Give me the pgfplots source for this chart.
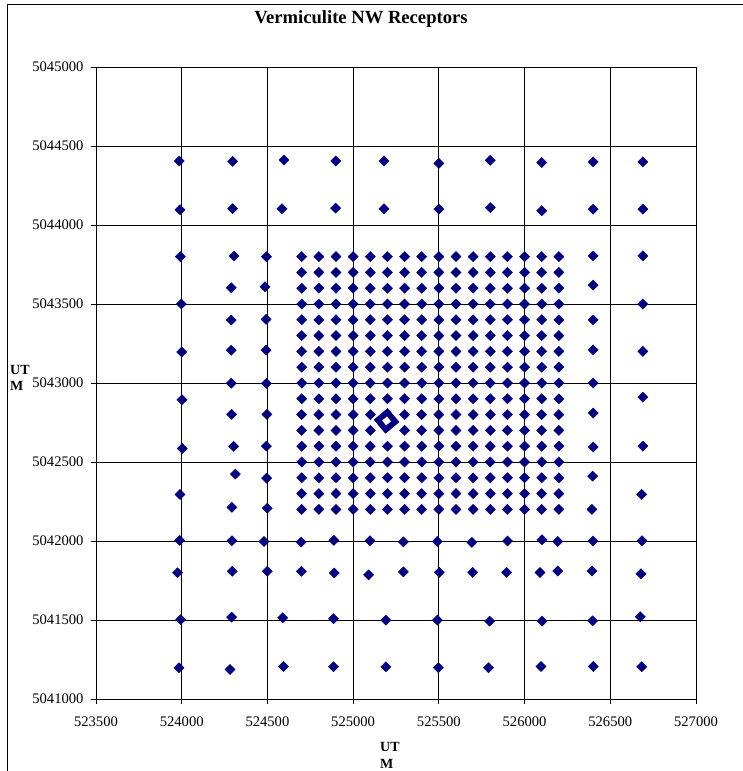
\documentclass[border=0pt]{standalone}
\usepackage{fontspec}
\setmainfont{Liberation Serif}
\usepackage{pgfplots}
\usepackage{pgfplotstable}
\pgfplotsset{compat=1.18}
\definecolor{navy}{HTML}{000080}

% receptors outside the dense 100 m block
\pgfplotstableread[row sep=\\]{
x y \\
523985 5044405 \\ 523990 5044097 \\ 523992 5043800 \\ 523998 5043500 \\
524000 5043196 \\ 524002 5042894 \\ 524003 5042586 \\ 523990 5042295 \\
523988 5042004 \\ 523976 5041799 \\ 523994 5041502 \\ 523984 5041198 \\
524297 5044403 \\ 524297 5044103 \\ 524305 5043803 \\ 524289 5043603 \\
524289 5043398 \\ 524289 5043208 \\ 524289 5042999 \\ 524291 5042801 \\
524303 5042599 \\ 524313 5042424 \\ 524293 5042213 \\ 524293 5042002 \\
524295 5041808 \\ 524291 5041518 \\ 524282 5041187 \\
524495 5043799 \\ 524486 5043609 \\ 524492 5043403 \\ 524492 5043208 \\
524494 5042997 \\ 524497 5042801 \\ 524494 5042601 \\ 524495 5042398 \\
524499 5042208 \\ 524480 5041997 \\ 524499 5041808 \\
524597 5044411 \\ 524585 5044103 \\ 524589 5041514 \\ 524594 5041206 \\
524898 5044405 \\ 524898 5044107 \\ 524886 5041508 \\ 524886 5041204 \\
525180 5044405 \\ 525180 5044103 \\ 525191 5041499 \\ 525191 5041204 \\
525500 5044390 \\ 525500 5044100 \\ 525491 5041499 \\ 525497 5041198 \\
525800 5044410 \\ 525800 5044110 \\ 525796 5041493 \\ 525790 5041198 \\
526100 5044395 \\ 526100 5044090 \\ 526102 5041493 \\ 526096 5041206 \\
524696 5041993 \\ 524698 5041808 \\ 524888 5042004 \\ 524890 5041797 \\
525098 5042002 \\ 525090 5041786 \\ 525293 5041995 \\ 525293 5041805 \\
525491 5041997 \\ 525503 5041801 \\ 525693 5041991 \\ 525697 5041801 \\
525901 5042000 \\ 525895 5041801 \\ 526102 5042008 \\ 526090 5041801 \\
526193 5041997 \\ 526193 5041810 \\
526400 5044400 \\ 526400 5044100 \\ 526400 5043804 \\ 526400 5043620 \\
526400 5043399 \\ 526400 5043209 \\ 526400 5043000 \\ 526400 5042810 \\
526400 5042595 \\ 526397 5042411 \\ 526393 5042200 \\ 526399 5042000 \\
526393 5041810 \\ 526397 5041495 \\ 526401 5041206 \\
526690 5044400 \\ 526690 5044100 \\ 526690 5043805 \\ 526690 5043500 \\
526690 5043200 \\ 526690 5042910 \\ 526690 5042600 \\ 526683 5042295 \\
526685 5042002 \\ 526679 5041793 \\ 526675 5041521 \\ 526683 5041204 \\
}\outerpts

% dense 100 m block
\pgfplotstableread[row sep=\\]{
x y \\
524700 5043800 \\ 524800 5043800 \\ 524900 5043800 \\ 525000 5043800 \\ 525100 5043800 \\ 525200 5043800 \\ 525300 5043800 \\ 525400 5043800 \\ 525500 5043800 \\ 525600 5043800 \\ 525700 5043800 \\ 525800 5043800 \\ 525900 5043800 \\ 526000 5043800 \\ 526100 5043800 \\ 526200 5043800 \\
524700 5043700 \\ 524800 5043700 \\ 524900 5043700 \\ 525000 5043700 \\ 525100 5043700 \\ 525200 5043700 \\ 525300 5043700 \\ 525400 5043700 \\ 525500 5043700 \\ 525600 5043700 \\ 525700 5043700 \\ 525800 5043700 \\ 525900 5043700 \\ 526000 5043700 \\ 526100 5043700 \\ 526200 5043700 \\
524700 5043600 \\ 524800 5043600 \\ 524900 5043600 \\ 525000 5043600 \\ 525100 5043600 \\ 525200 5043600 \\ 525300 5043600 \\ 525400 5043600 \\ 525500 5043600 \\ 525600 5043600 \\ 525700 5043600 \\ 525800 5043600 \\ 525900 5043600 \\ 526000 5043600 \\ 526100 5043600 \\ 526200 5043600 \\
524700 5043500 \\ 524800 5043500 \\ 524900 5043500 \\ 525000 5043500 \\ 525100 5043500 \\ 525200 5043500 \\ 525300 5043500 \\ 525400 5043500 \\ 525500 5043500 \\ 525600 5043500 \\ 525700 5043500 \\ 525800 5043500 \\ 525900 5043500 \\ 526000 5043500 \\ 526100 5043500 \\ 526200 5043500 \\
524700 5043400 \\ 524800 5043400 \\ 524900 5043400 \\ 525000 5043400 \\ 525100 5043400 \\ 525200 5043400 \\ 525300 5043400 \\ 525400 5043400 \\ 525500 5043400 \\ 525600 5043400 \\ 525700 5043400 \\ 525800 5043400 \\ 525900 5043400 \\ 526000 5043400 \\ 526100 5043400 \\ 526200 5043400 \\
524700 5043300 \\ 524800 5043300 \\ 524900 5043300 \\ 525000 5043300 \\ 525100 5043300 \\ 525200 5043300 \\ 525300 5043300 \\ 525400 5043300 \\ 525500 5043300 \\ 525600 5043300 \\ 525700 5043300 \\ 525800 5043300 \\ 525900 5043300 \\ 526000 5043300 \\ 526100 5043300 \\ 526200 5043300 \\
524700 5043200 \\ 524800 5043200 \\ 524900 5043200 \\ 525000 5043200 \\ 525100 5043200 \\ 525200 5043200 \\ 525300 5043200 \\ 525400 5043200 \\ 525500 5043200 \\ 525600 5043200 \\ 525700 5043200 \\ 525800 5043200 \\ 525900 5043200 \\ 526000 5043200 \\ 526100 5043200 \\ 526200 5043200 \\
524700 5043100 \\ 524800 5043100 \\ 524900 5043100 \\ 525000 5043100 \\ 525100 5043100 \\ 525200 5043100 \\ 525300 5043100 \\ 525400 5043100 \\ 525500 5043100 \\ 525600 5043100 \\ 525700 5043100 \\ 525800 5043100 \\ 525900 5043100 \\ 526000 5043100 \\ 526100 5043100 \\ 526200 5043100 \\
524700 5043000 \\ 524800 5043000 \\ 524900 5043000 \\ 525000 5043000 \\ 525100 5043000 \\ 525200 5043000 \\ 525300 5043000 \\ 525400 5043000 \\ 525500 5043000 \\ 525600 5043000 \\ 525700 5043000 \\ 525800 5043000 \\ 525900 5043000 \\ 526000 5043000 \\ 526100 5043000 \\ 526200 5043000 \\
524700 5042900 \\ 524800 5042900 \\ 524900 5042900 \\ 525000 5042900 \\ 525100 5042900 \\ 525200 5042900 \\ 525300 5042900 \\ 525400 5042900 \\ 525500 5042900 \\ 525600 5042900 \\ 525700 5042900 \\ 525800 5042900 \\ 525900 5042900 \\ 526000 5042900 \\ 526100 5042900 \\ 526200 5042900 \\
524700 5042800 \\ 524800 5042800 \\ 524900 5042800 \\ 525000 5042800 \\ 525100 5042800 \\ 525300 5042800 \\ 525400 5042800 \\ 525500 5042800 \\ 525600 5042800 \\ 525700 5042800 \\ 525800 5042800 \\ 525900 5042800 \\ 526000 5042800 \\ 526100 5042800 \\ 526200 5042800 \\
524700 5042700 \\ 524800 5042700 \\ 524900 5042700 \\ 525000 5042700 \\ 525100 5042700 \\ 525300 5042700 \\ 525400 5042700 \\ 525500 5042700 \\ 525600 5042700 \\ 525700 5042700 \\ 525800 5042700 \\ 525900 5042700 \\ 526000 5042700 \\ 526100 5042700 \\ 526200 5042700 \\
524700 5042600 \\ 524800 5042600 \\ 524900 5042600 \\ 525000 5042600 \\ 525100 5042600 \\ 525200 5042600 \\ 525300 5042600 \\ 525400 5042600 \\ 525500 5042600 \\ 525600 5042600 \\ 525700 5042600 \\ 525800 5042600 \\ 525900 5042600 \\ 526000 5042600 \\ 526100 5042600 \\ 526200 5042600 \\
524700 5042500 \\ 524800 5042500 \\ 524900 5042500 \\ 525000 5042500 \\ 525100 5042500 \\ 525200 5042500 \\ 525300 5042500 \\ 525400 5042500 \\ 525500 5042500 \\ 525600 5042500 \\ 525700 5042500 \\ 525800 5042500 \\ 525900 5042500 \\ 526000 5042500 \\ 526100 5042500 \\ 526200 5042500 \\
524700 5042400 \\ 524800 5042400 \\ 524900 5042400 \\ 525000 5042400 \\ 525100 5042400 \\ 525200 5042400 \\ 525300 5042400 \\ 525400 5042400 \\ 525500 5042400 \\ 525600 5042400 \\ 525700 5042400 \\ 525800 5042400 \\ 525900 5042400 \\ 526000 5042400 \\ 526100 5042400 \\ 526200 5042400 \\
524700 5042300 \\ 524800 5042300 \\ 524900 5042300 \\ 525000 5042300 \\ 525100 5042300 \\ 525200 5042300 \\ 525300 5042300 \\ 525400 5042300 \\ 525500 5042300 \\ 525600 5042300 \\ 525700 5042300 \\ 525800 5042300 \\ 525900 5042300 \\ 526000 5042300 \\ 526100 5042300 \\ 526200 5042300 \\
524700 5042200 \\ 524800 5042200 \\ 524900 5042200 \\ 525000 5042200 \\ 525100 5042200 \\ 525200 5042200 \\ 525300 5042200 \\ 525400 5042200 \\ 525500 5042200 \\ 525600 5042200 \\ 525700 5042200 \\ 525800 5042200 \\ 525900 5042200 \\ 526000 5042200 \\ 526100 5042200 \\ 526200 5042200 \\
}\innerpts

\begin{document}
\begin{tikzpicture}
\useasboundingbox (0,0) rectangle (742pt,771pt);
% chart area border (only left and top edges fall inside the picture)
\draw[line width=0.9pt] (7pt,-5pt) -- (7pt,767pt) -- (750pt,767pt);
\node[anchor=base, font=\bfseries\fontsize{18.6}{22}\selectfont] at (361pt,747pt) {Vermiculite NW Receptors};

\begin{axis}[
    at={(96pt,72pt)}, anchor=south west,
    scale only axis, width=600pt, height=632pt,
    xmin=523500, xmax=527000, ymin=5041000, ymax=5045000,
    xtick={523500,524000,524500,525000,525500,526000,526500,527000},
    ytick={5041000,5041500,5042000,5042500,5043000,5043500,5044000,5044500,5045000},
    xtick pos=bottom, ytick pos=left,
    grid=major,
    major grid style={black, line width=0.8pt},
    axis line style={black, line width=0.8pt},
    tick align=outside, major tick length=5pt,
    tick style={black, line width=0.8pt},
    scaled ticks=false,
    /pgf/number format/.cd, fixed, precision=0, 1000 sep={}, assume math mode=true,
    /pgfplots/.cd,
    ticklabel style={font=\fontsize{14.6}{17}\selectfont},
    xticklabel style={yshift=-9pt},
    yticklabel style={xshift=-4pt},
    xlabel={UT\\M}, ylabel={UT\\M},
    label style={font=\bfseries\fontsize{14}{16.5}\selectfont, align=left, inner sep=0pt},
    xlabel style={at={(axis description cs:0.4733,-0.069)}, anchor=north west},
    ylabel style={rotate=-90, at={(axis description cs:-0.1433,0.529)}, anchor=north west},
  ]
\addplot[only marks, mark=square*, mark size=3.6pt,
         mark options={rotate=45, draw=navy, fill=navy}] table {\outerpts};
\addplot[only marks, mark=square*, mark size=3.6pt,
         mark options={rotate=45, draw=navy, fill=navy}] table {\innerpts};
% source location
\addplot[only marks, mark=square, mark size=6.2pt,
         mark options={rotate=40, draw=navy, fill=white, line width=5.8pt}]
  coordinates {(525195,5042760)};
\end{axis}
\end{tikzpicture}
\end{document}
